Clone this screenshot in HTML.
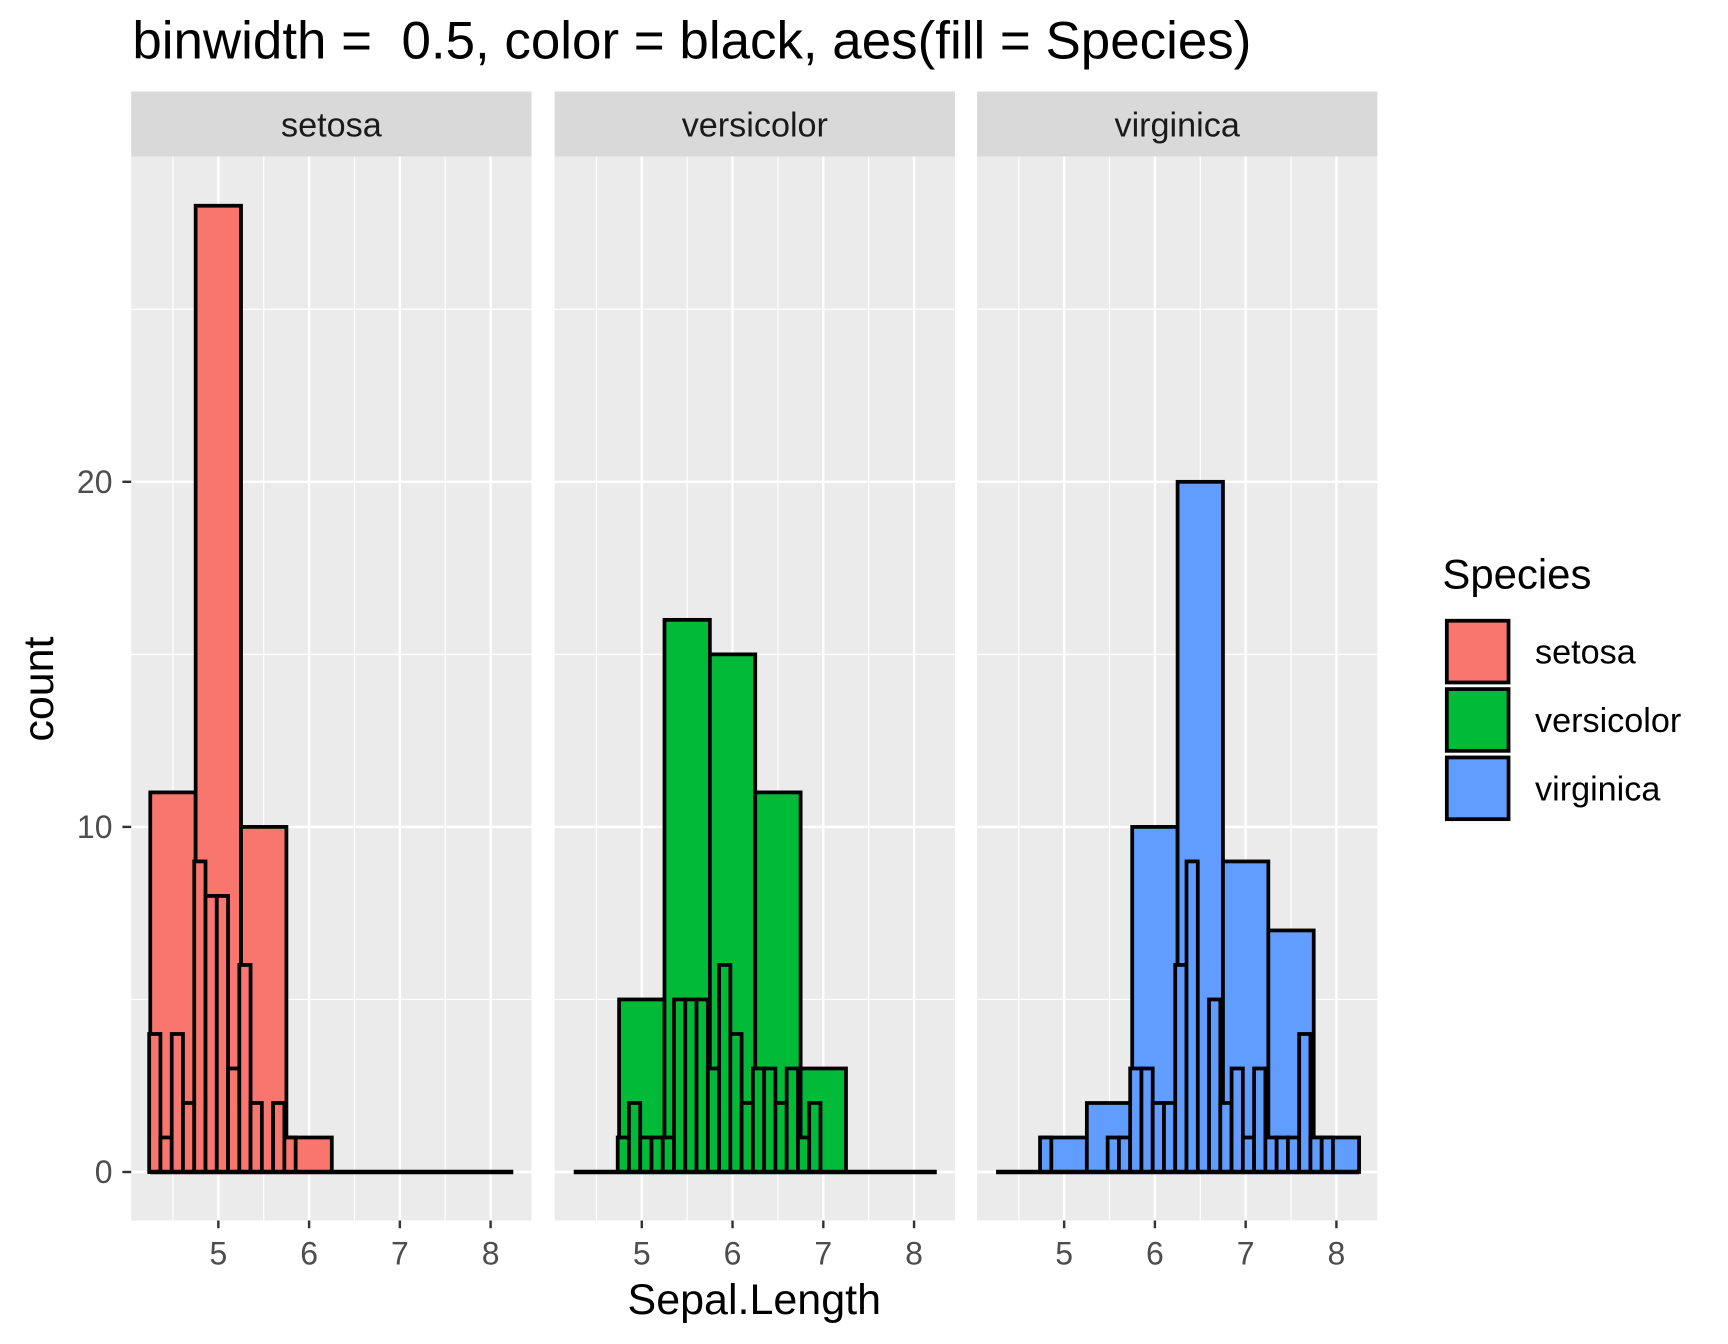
<!DOCTYPE html>
<html><head><meta charset="utf-8">
<style>
html,body{margin:0;padding:0;background:#fff;}
svg{display:block;font-family:"Liberation Sans",sans-serif;}
</style></head>
<body>
<svg id="chart" width="1728" height="1344" viewBox="0 0 1567 1219" preserveAspectRatio="none" xmlns="http://www.w3.org/2000/svg">
<text x="120" y="53" font-size="48" fill="#000" style="white-space:pre" xml:space="preserve">binwidth =  0.5, color = black, aes(fill = Species)</text>
<g id="panels"></g>
<text x="684" y="1192" font-size="39" text-anchor="middle" fill="#000">Sepal.Length</text>
<text transform="translate(48,625) rotate(-90)" font-size="39" text-anchor="middle" fill="#000">count</text>
<g>
<text x="1308" y="534" font-size="38" fill="#000">Species</text>
<rect x="1312" y="563" width="56" height="56" fill="#F8766D" stroke="#000" stroke-width="3.4"/>
<rect x="1312" y="625" width="56" height="56" fill="#00BA38" stroke="#000" stroke-width="3.4"/>
<rect x="1312" y="687" width="56" height="56" fill="#619CFF" stroke="#000" stroke-width="3.4"/>
<text x="1392" y="602" font-size="31" fill="#000">setosa</text>
<text x="1392" y="664" font-size="31" fill="#000">versicolor</text>
<text x="1392" y="726" font-size="31" fill="#000">virginica</text>
</g>
</svg>
<script>
const species = ["setosa","versicolor","virginica"];
const fills = ["#F8766D","#00BA38","#619CFF"];
const wideStart = 4.25;
const wideWidth = 0.5;
const wideSetosa = [11,28,10,1,0,0,0,0];
const wideVersicolor = [0,5,16,15,11,3,0,0];
const wideVirginica = [0,1,2,10,20,9,7,1];
const narrowStart = 4.2379;
const narrowWidth = 0.124138;
const narrowSetosa = [4,1,4,2,9,8,8,3,6,2,0,2,1,0,0,0,0,0,0,0,0,0,0,0,0,0,0,0,0,0];
const narrowVersicolor = [0,0,0,0,1,2,1,1,1,5,5,5,3,6,4,2,3,3,2,3,1,2,0,0,0,0,0,0,0,0];
const narrowVirginica = [0,0,0,0,1,0,0,0,0,0,1,1,3,3,2,2,6,9,0,5,2,3,1,3,1,1,1,4,1,1];
const xTicks = [5,6,7,8];
const xMinor = [4.5,5.5,6.5,7.5];
const yTicks = [0,10,20];
const yMinor = [5,15,25];

const wide = [wideSetosa, wideVersicolor, wideVirginica];
const narrow = [narrowSetosa, narrowVersicolor, narrowVirginica];
const panelLeft = [119,503,886], panelW = 363, panelTop = 142, panelBottom = 1107;
const SW = 3.4;
const NS = "http://www.w3.org/2000/svg";
function xs(p, v){ return panelLeft[p] + 79 + (v - 5) * 82.3; }
function ys(v){ return 1063 - v * 31.3; }
function mk(tag, attrs, parent){
  const e = document.createElementNS(NS, tag);
  for (const k in attrs) e.setAttribute(k, attrs[k]);
  parent.appendChild(e); return e;
}
const root = document.getElementById("panels");
for (let p = 0; p < 3; p++) {
  const g = mk("g", {}, root);
  
  
  const L = panelLeft[p];
  const bg = mk("rect", {x:L, y:panelTop, width:panelW, height:panelBottom-panelTop, fill:"#EBEBEB"}, g);
  
  
  const strip = mk("rect", {x:L, y:83, width:panelW, height:59, fill:"#D9D9D9"}, g);
  
  
  const st = mk("text", {x:L+panelW/2, y:124, "font-size":31, "text-anchor":"middle", fill:"#1A1A1A"}, g);
  st.textContent = species[p];
  
  
  yMinor.forEach(v => { const l = mk("line", {x1:L, x2:L+panelW, y1:ys(v), y2:ys(v), stroke:"#fff", "stroke-width":1.1}, g);
      });
  xMinor.forEach(v => { const l = mk("line", {x1:xs(p,v), x2:xs(p,v), y1:panelTop, y2:panelBottom, stroke:"#fff", "stroke-width":1.1}, g);
      });
  yTicks.forEach(v => { const l = mk("line", {x1:L, x2:L+panelW, y1:ys(v), y2:ys(v), stroke:"#fff", "stroke-width":2.2}, g);
      });
  xTicks.forEach(v => {
    const l = mk("line", {x1:xs(p,v), x2:xs(p,v), y1:panelTop, y2:panelBottom, stroke:"#fff", "stroke-width":2.2}, g);
     
    const t = mk("line", {x1:xs(p,v), x2:xs(p,v), y1:panelBottom, y2:panelBottom+7, stroke:"#333", "stroke-width":2.2}, g);
     
    const tl = mk("text", {x:xs(p,v), y:1147, "font-size":29, "text-anchor":"middle", fill:"#4D4D4D"}, g);
    tl.textContent = v;
     
  });
  wide[p].forEach((c, i) => {
    const x0 = xs(p, wideStart + i*wideWidth), x1 = xs(p, wideStart + (i+1)*wideWidth);
    const r = mk("rect", {x:x0, y:ys(c), width:x1-x0, height:ys(0)-ys(c), fill:fills[p], stroke:"#000", "stroke-width":SW}, g);
    
    
  });
  narrow[p].forEach((c, i) => {
    const x0 = xs(p, narrowStart + i*narrowWidth), x1 = xs(p, narrowStart + (i+1)*narrowWidth);
    if (c === 0) return;
    const r = mk("rect", {x:x0, y:ys(c), width:x1-x0, height:ys(0)-ys(c), fill:fills[p], stroke:"#000", "stroke-width":SW}, g);
    
    
  });
  const base = mk("line", {x1:xs(p, wideStart), x2:xs(p, wideStart + wide[p].length*wideWidth), y1:ys(0), y2:ys(0), stroke:"#000", "stroke-width":SW+0.6}, g);
  
  
}
const ax = mk("g", {}, root);


yTicks.forEach(v => {
  const t = mk("line", {x1:111, x2:119, y1:ys(v), y2:ys(v), stroke:"#333", "stroke-width":2.2}, ax);
   
  const tl = mk("text", {x:102, y:ys(v)+10, "font-size":29, "text-anchor":"end", fill:"#4D4D4D"}, ax);
  tl.textContent = v;
   
});
</script>
</body></html>
